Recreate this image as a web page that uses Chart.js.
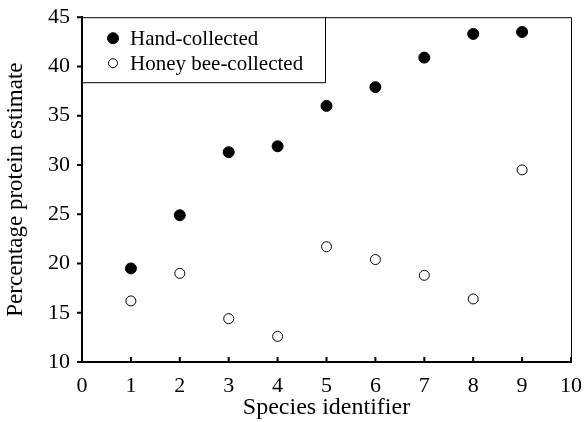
<!DOCTYPE html>
<html><head><meta charset="utf-8">
<script src="https://cdn.jsdelivr.net/npm/chart.js@4/dist/chart.umd.min.js"></script>
<style>html,body{margin:0;padding:0;background:#fff}#wrap{width:585px;height:422px}</style>
</head><body><div id="wrap"><canvas id="c" width="585" height="422"></canvas></div>
<script>
const species = [1,2,3,4,5,6,7,8,9];
const handCollected = [19.5,24.9,31.3,31.9,36.0,37.9,40.9,43.3,43.5];
const beeCollected = [16.2,19.0,14.4,12.6,21.7,20.4,18.8,16.4,29.5];
const seriesNames = ['Hand-collected','Honey bee-collected'];
const xTitle = 'Species identifier';
const yTitle = 'Percentage protein estimate';

const FONT = '"Liberation Serif", "Times New Roman", serif';

const legendBox = {
  id:'legendBox',
  afterDraw(chart){
    const ctx = chart.ctx, a = chart.chartArea;
    const x0 = a.left, y0 = a.top, w = 243, h = 65;
    ctx.save();
    ctx.strokeStyle = '#000'; ctx.lineWidth = 1;
    ctx.beginPath();
    ctx.moveTo(x0, y0 + h + 0.5); ctx.lineTo(x0 + w + 0.5, y0 + h + 0.5); ctx.lineTo(x0 + w + 0.5, y0);
    ctx.stroke();
    ctx.font = '21px ' + FONT;
    ctx.textBaseline = 'middle';
    ctx.fillStyle = '#000';
    chart.data.datasets.forEach((ds, i) => {
      const cy = y0 + 21 + i * 25;
      const cx = x0 + 31;
      ctx.beginPath();
      ctx.arc(cx, cy, i === 0 ? 5.5 : 4.5, 0, Math.PI*2);
      ctx.fillStyle = ds.pointBackgroundColor;
      ctx.fill();
      ctx.lineWidth = ds.pointBorderWidth;
      ctx.strokeStyle = '#000';
      ctx.stroke();
      ctx.fillStyle = '#000';
      ctx.fillText(ds.label, x0 + 48, cy + 1);
    });
    ctx.restore();
  }
};

new Chart(document.getElementById('c'), {
  type:'scatter',
  data:{
    datasets:[
      {label:seriesNames[0], data:species.map((s,i)=>({x:s,y:handCollected[i]})),
       pointRadius:5.5, pointBackgroundColor:'#000', pointBorderColor:'#000', pointBorderWidth:1},
      {label:seriesNames[1], data:species.map((s,i)=>({x:s,y:beeCollected[i]})),
       pointRadius:5, pointBackgroundColor:'#fff', pointBorderColor:'#000', pointBorderWidth:1}
    ]
  },
  options:{
    responsive:false, animation:false, devicePixelRatio:1,
    layout:{padding:{left:2,right:11,top:13,bottom:0}},
    plugins:{legend:{display:false}, tooltip:{enabled:false}},
    scales:{
      x:{
        type:'linear', min:0, max:10,
        ticks:{stepSize:1, color:'#000', font:{family:FONT,size:22}, padding:3, maxRotation:0},
        grid:{display:false, drawTicks:true},
        border:{display:true,color:'#000',width:2},
        title:{display:true, text:xTitle, color:'#000', font:{family:FONT,size:24}, padding:{top:0,bottom:0}},
        afterFit(s){ s.height = 60; }
      },
      y:{
        min:10, max:45,
        ticks:{stepSize:5, color:'#000', font:{family:FONT,size:22}, padding:4},
        grid:{display:false},
        border:{display:true,color:'#000',width:2},
        title:{display:true, text:yTitle, color:'#000', font:{family:FONT,size:23}, padding:{top:0,bottom:2}},
        afterFit(s){ s.width = 80; }
      }
    }
  },
  plugins:[legendBox, {
    id:'frame',
    afterDraw(chart){
      const ctx = chart.ctx, a = chart.chartArea;
      ctx.save();
      ctx.strokeStyle='#000';
      ctx.lineWidth=1;
      ctx.beginPath();
      ctx.moveTo(a.left, a.top+0.5); ctx.lineTo(a.right+0.5, a.top+0.5); ctx.lineTo(a.right+0.5, a.bottom);
      ctx.stroke();
      ctx.lineWidth=2;
      const xs = chart.scales.x, ys = chart.scales.y;
      ctx.beginPath();
      xs.ticks.forEach(t=>{ const px = xs.getPixelForValue(t.value); ctx.moveTo(px, a.bottom); ctx.lineTo(px, a.bottom-5); });
      ys.ticks.forEach(t=>{ const py = ys.getPixelForValue(t.value); ctx.moveTo(a.left, py); ctx.lineTo(a.left-5, py); });
      ctx.stroke();
      ctx.restore();
    }
  }]
});
</script></body></html>
